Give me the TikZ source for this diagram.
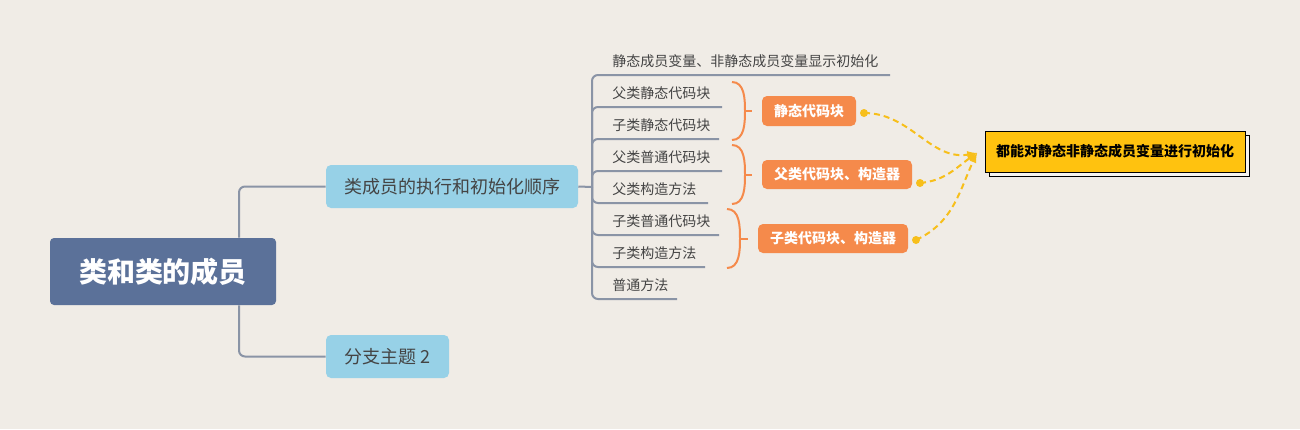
\documentclass[tikz,border=0pt]{standalone}
\usepackage{fontspec}
\setmainfont{Noto Sans CJK SC}
\usepackage{tikz}
\usetikzlibrary{arrows, shapes, shadows}
\tikzset{>=latex}
\newdimen\pxu \pxu=0.75pt
\definecolor{bgc}{HTML}{F0ECE6}
\definecolor{rootc}{HTML}{5B7199}
\definecolor{topicc}{HTML}{97D1E7}
\definecolor{linec}{HTML}{8A94A6}
\definecolor{orangec}{HTML}{F58A4B}
\definecolor{yellowc}{HTML}{FFC20F}
\definecolor{dashc}{HTML}{F7BF1B}
\definecolor{textc}{HTML}{444444}
\tikzset{
  branch/.style={linec, line width=2\pxu, rounded corners=6\pxu},
  rootbox/.style={fill=rootc, rounded corners=4\pxu, text=white, font=\bfseries\fontsize{21}{24}\selectfont, inner sep=0pt},
  topicbox/.style={fill=topicc, rounded corners=5\pxu, text=textc, font=\fontsize{13.5}{16}\selectfont, inner sep=0pt},
  leaf/.style={anchor=west, text=textc, font=\fontsize{10.5}{12}\selectfont, inner sep=0pt},
  sumbox/.style={fill=orangec, rounded corners=5\pxu, text=white, font=\bfseries\fontsize{10.5}{12}\selectfont, inner sep=0pt},
  bracket/.style={orangec, line width=2\pxu},
  link/.style={dashc, line width=2\pxu, dashed, dash pattern=on 6\pxu off 4\pxu, ->, >=latex}
}
\begin{document}
\begin{tikzpicture}[x=0.75pt, y=-0.75pt]
\path[fill=bgc, use as bounding box] (0,0) rectangle (1300,429);

% main topics
\node[rootbox, minimum width=226\pxu, minimum height=67\pxu] (root) at (163,271.5) {类和类的成员};
\node[topicbox, minimum width=252\pxu, minimum height=43\pxu] (order) at (452,186.5) {类成员的执行和初始化顺序};
\node[topicbox, minimum width=123\pxu, minimum height=43\pxu] (sub2) at (387.5,356.5) {分支主题 2};
\coordinate (rj) at (239,271.5);
\draw[branch] (rj |- root.north) |- (order.west);
\draw[branch] (rj |- root.south) |- (sub2.west);

% leaves
\coordinate (hub) at (592,187);
\draw[branch] (order.east) -- (hub);
\foreach \name/\y/\xe/\txt in {
  l1/75/890/静态成员变量、非静态成员变量显示初始化,
  l2/107/722/父类静态代码块,
  l3/139/719/子类静态代码块,
  l4/171/722/父类普通代码块,
  l5/203/708/父类构造方法,
  l6/235/719/子类普通代码块,
  l7/267/705/子类构造方法,
  l8/299/677/普通方法}{
  \node[leaf] (\name) at (612,\y-14) {\txt};
  \coordinate (\name e) at (\xe,\y);
  \draw[branch] (hub) |- (\name e);
}

% brackets
\foreach \i/\xa/\xb/\xt/\ya/\yb in {1/732/745/752/82/140, 2/732/745/752/145/204, 3/727/740/748/209/268}{
  \coordinate (b\i t) at (\xa,\ya);
  \coordinate (b\i m) at (\xb,{(\ya+\yb)/2});
  \coordinate (b\i b) at (\xa,\yb);
  \coordinate (b\i k) at (\xt,{(\ya+\yb)/2});
  \draw[bracket] (b\i t) to[out=0, in=90] (b\i m) to[out=-90, in=0] (b\i b);
  \draw[bracket] (b\i m) -- (b\i k);
}

\node[sumbox, minimum width=94\pxu, minimum height=30\pxu] (s1) at (809,111) {静态代码块};
\node[sumbox, minimum width=150\pxu, minimum height=29\pxu] (s2) at (837,174.5) {父类代码块、构造器};
\node[sumbox, minimum width=150\pxu, minimum height=29\pxu] (s3) at (833,238.5) {子类代码块、构造器};

% summary
\node[fill=yellowc, draw=black, line width=1\pxu, font=\bfseries\fontsize{10.5}{12}\selectfont,
  minimum width=260\pxu, minimum height=41\pxu, inner sep=0pt,
  copy shadow={shadow xshift=4\pxu, shadow yshift=-4\pxu, fill=bgc!60!white, draw=black, line width=1\pxu}]
  (note) at (1115,151.5) {都能对静态非静态成员变量进行初始化};
\coordinate (tip) at (977,153);

\coordinate (d1) at (864,113);
\coordinate (d2) at (920,183);
\coordinate (d3) at (916,240);
\foreach \d in {d1,d2,d3} \fill[dashc] (\d) circle (4);
\draw[link] (d1) to[out=0, in=190] (tip);
\draw[link] (d2) to[out=5, in=215] (tip);
\draw[link] (d3) to[out=25, in=245] (tip);
\end{tikzpicture}
\end{document}
